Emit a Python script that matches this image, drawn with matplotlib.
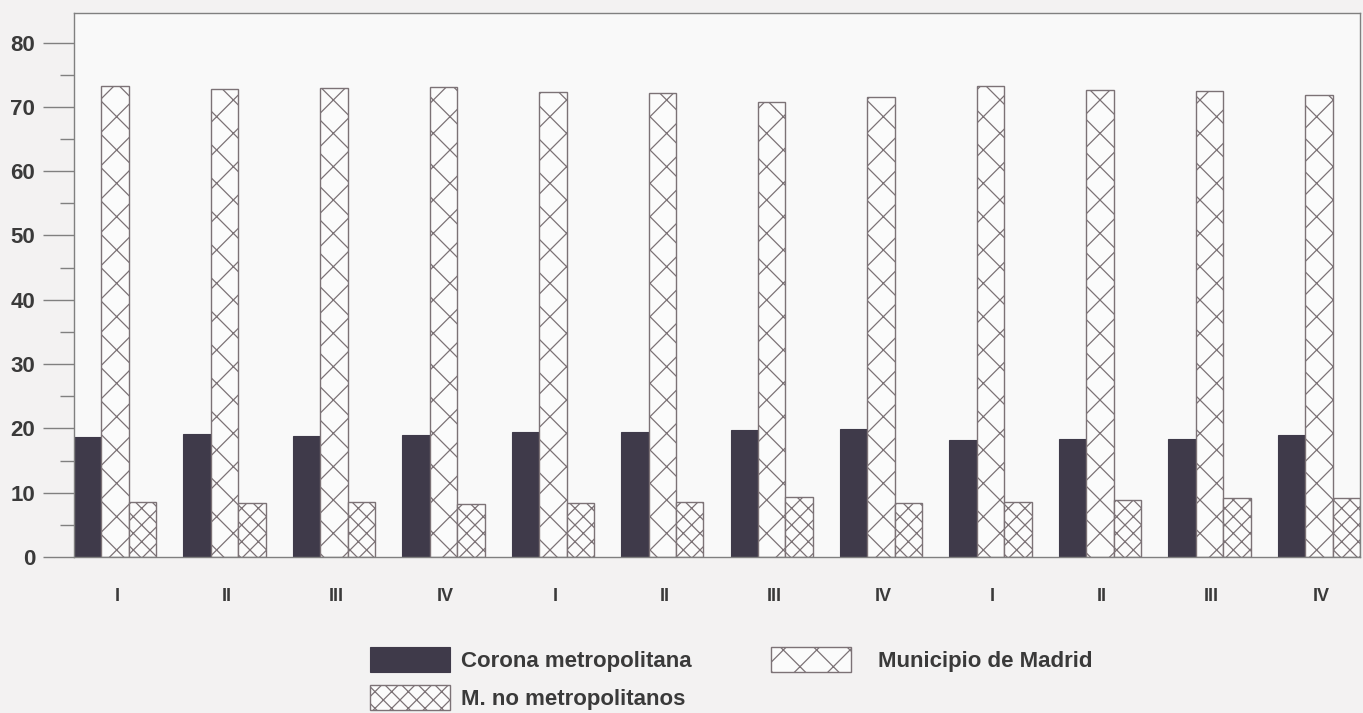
import matplotlib.pyplot as plt
import numpy as np

plt.rcParams['font.family'] = ['Liberation Sans', 'DejaVu Sans']
plt.rcParams['hatch.linewidth'] = 0.45

quarters = ["I", "II", "III", "IV", "I", "II", "III", "IV", "I", "II", "III", "IV"]
corona = [18.6, 19.1, 18.8, 19.0, 19.4, 19.4, 19.8, 19.9, 18.2, 18.4, 18.4, 19.0]
municipio = [73.2, 72.8, 72.9, 73.1, 72.3, 72.1, 70.8, 71.6, 73.3, 72.6, 72.4, 71.8]
no_metro = [8.55, 8.4, 8.55, 8.25, 8.4, 8.5, 9.4, 8.4, 8.5, 8.9, 9.1, 9.2]

dark = '#3f3a4a'
edge = '#7c7276'
txt = '#3a3a3a'

fig = plt.figure(figsize=(13.63 / 2, 7.13 / 2), dpi=200, facecolor='#f3f2f2')
ax = fig.add_axes([74 / 1363, 156 / 713, 1286 / 1363, 544 / 713])
ax.set_facecolor('#f9f9f9')

x = np.arange(len(quarters))
w = 0.251
b1 = ax.bar(x - w, corona, w, color=dark, edgecolor=dark, linewidth=0.4,
            label='Corona metropolitana')
b2 = ax.bar(x, municipio, w, color='#fbfbfb', edgecolor=edge, hatch='xx', linewidth=0.5,
            label='Municipio de Madrid')
b3 = ax.bar(x + w, no_metro, w, color='#fbfbfb', edgecolor=edge, hatch='xxxx', linewidth=0.5,
            label='M. no metropolitanos')

ax.set_xlim(-1.5 * w, len(quarters) - 1 + 1.5 * w)
ax.set_ylim(0, 84.6)
ax.set_yticks(np.arange(0, 81, 10))
ax.set_yticks(np.arange(5, 80, 10), minor=True)
ax.set_xticks(x + 0.02)
ax.set_xticklabels(quarters)

for s in ax.spines.values():
    s.set_color('#808080')
    s.set_linewidth(0.5)

ax.tick_params(axis='y', which='major', length=11, width=0.5, color='#808080',
               pad=3, labelsize=8, labelcolor=txt)
ax.tick_params(axis='y', which='minor', length=5, width=0.5, color='#808080')
ax.tick_params(axis='x', length=0, pad=11, labelsize=6.5, labelcolor=txt)
for lab in ax.get_yticklabels() + ax.get_xticklabels():
    lab.set_fontweight('bold')

leg_kw = dict(loc='upper left', bbox_transform=fig.transFigure, frameon=False, borderpad=0,
              handlelength=3.6, handleheight=1.35, labelspacing=0.6,
              prop={'weight': 'bold', 'size': 8.0})
leg1 = ax.legend([b1, b3], [b1.get_label(), b3.get_label()],
                 bbox_to_anchor=(359 / 1363, 77 / 713), handletextpad=0.5, **leg_kw)
ax.add_artist(leg1)
leg2 = ax.legend([b2], [b2.get_label()],
                 bbox_to_anchor=(760 / 1363, 77 / 713), handletextpad=1.2, **leg_kw)
for leg in (leg1, leg2):
    for t in leg.get_texts():
        t.set_color(txt)

fig.savefig('out.png', dpi=200, facecolor=fig.get_facecolor())
